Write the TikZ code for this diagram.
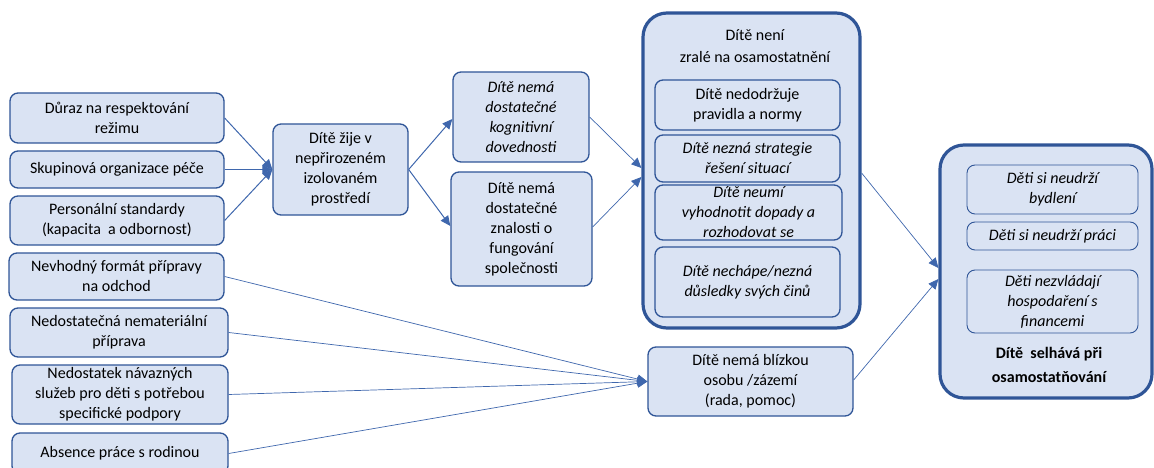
\documentclass[tikz,border=0pt]{standalone}
\usepackage{fontspec}
\setmainfont{Carlito}
\usetikzlibrary{arrows.meta}
\definecolor{boxfill}{HTML}{DAE3F3}
\definecolor{boxline}{HTML}{2F5597}
\definecolor{linkline}{HTML}{3F67AD}
\newcommand{\boxfont}{\fontsize{16}{20}\selectfont}
\tikzset{
  txt/.style={font=\boxfont, text=black, align=center},
  itxt/.style={font=\boxfont\itshape},
  box/.style={txt, draw=boxline, fill=boxfill, line width=1.3pt, rounded corners=8pt, inner sep=0pt},
  bigbox/.style={draw=boxline, fill=boxfill, line width=3.2pt, rounded corners=24pt, inner sep=0pt},
  thinbox/.style={box, line width=0.9pt},
  link/.style={draw=linkline, line width=1pt, -{Triangle[length=10pt,width=9pt]}},
  hairlink/.style={draw=linkline, line width=0.7pt, -{Triangle[length=10pt,width=9pt]}}
}
\begin{document}
\begin{tikzpicture}[x=1pt,y=-1pt]
\useasboundingbox (0,0) rectangle (1154,468);
\clip (0,0) rectangle (1154,468);

% left column of causes
\node[box, minimum width=214pt, minimum height=50pt] (d1) at (117,118) {Důraz na respektování\\režimu};
\node[box, minimum width=214pt, minimum height=37pt] (d2) at (117,169.5) {Skupinová organizace péče};
\node[box, minimum width=214pt, minimum height=49pt] (d3) at (117,220.5) {Personální standardy\\(kapacita~ a odbornost)};
\node[box, minimum width=215pt, minimum height=47pt] (d4) at (116.5,276.5) {Nevhodný formát přípravy\\na odchod};
\node[box, minimum width=218pt, minimum height=49pt] (d5) at (119,332.5) {Nedostatečná nemateriální\\příprava};
\node[box, minimum width=216pt, minimum height=59pt] (d6) at (120,394.5) {Nedostatek návazných\\služeb pro děti s potřebou\\specifické podpory};
\node[box, minimum width=216pt, minimum height=41pt] (d7) at (120,453.5) {Absence práce s rodinou};

% environment and its consequences
\node[box, minimum width=135pt, minimum height=91pt] (m) at (340.5,169.5) {Dítě žije v\\nepřirozeném\\izolovaném\\prostředí};
\node[box, itxt, minimum width=136pt, minimum height=90pt] (k) at (521,117) {Dítě nemá\\dostatečné\\kognitivní\\dovednosti};
\node[box, minimum width=141pt, minimum height=114pt] (z) at (521.5,229) {Dítě nemá\\dostatečné\\znalosti o\\fungování\\společnosti};

% not ready for independence
\node[bigbox, minimum width=217pt, minimum height=315pt] (a) at (751.5,170.5) {};
\node[txt] (at) at (755,46) {Dítě není\\[2pt]zralé na osamostatnění};
\node[box, minimum width=185pt, minimum height=50pt] (a1) at (747.5,105) {Dítě nedodržuje\\pravidla a normy};
\node[box, itxt, minimum width=185pt, minimum height=47pt] (a2) at (747.5,158.5) {Dítě nezná strategie\\řešení situací};
\node[box, itxt, minimum width=187pt, minimum height=55pt] (a3) at (748.5,212.5) {Dítě neumí\\vyhodnotit dopady a\\rozhodovat se};
\node[box, itxt, minimum width=185pt, minimum height=70pt] (a4) at (747.5,282) {Dítě nechápe/nezná\\důsledky svých činů};

% no close person
\node[box, minimum width=205pt, minimum height=69pt] (b) at (750.5,381.5) {Dítě nemá blízkou\\osobu /zázemí\\(rada, pomoc)};

% failure
\node[bigbox, minimum width=212pt, minimum height=253pt] (r) at (1046,271.5) {};
\node[thinbox, itxt, minimum width=171pt, minimum height=49pt] (r1) at (1052.5,189.5) {Děti si neudrží\\bydlení};
\node[thinbox, itxt, minimum width=171pt, minimum height=28pt] (r2) at (1052.5,236) {Děti si neudrží práci};
\node[thinbox, itxt, minimum width=171pt, minimum height=63pt] (r3) at (1052.5,301.5) {Děti nezvládají\\hospodaření s\\financemi};
\node[txt, font=\fontsize{16}{24}\selectfont\bfseries] (rt) at (1049,365) {Dítě~ selhává při\\osamostatňování};

% connectors
\draw[link] (d1.east) -- (m.west);
\draw[link] (d2.east) -- (m.west);
\draw[link] (d3.east) -- (m.west);
\draw[link] (m.east) -- ([yshift=-2pt]k.west);
\draw[link] (m.east) -- ([yshift=3pt]z.west);
\draw[hairlink] (k.east) -- ([yshift=2.5pt]a.west);
\draw[hairlink] ([yshift=2pt]z.east) -- ([yshift=-6.5pt]a.west);
\draw[hairlink] (d4.east) -- (b.west);
\draw[hairlink] (d5.east) -- (b.west);
\draw[hairlink] (d6.east) -- (b.west);
\draw[hairlink] (d7.east) -- (b.west);
\draw[hairlink] ([yshift=-2.5pt]a.east) -- ([yshift=3.5pt]r.west);
\draw[hairlink] ([yshift=1.5pt]b.east) -- ([yshift=-7.5pt]r.west);
\end{tikzpicture}
\end{document}
